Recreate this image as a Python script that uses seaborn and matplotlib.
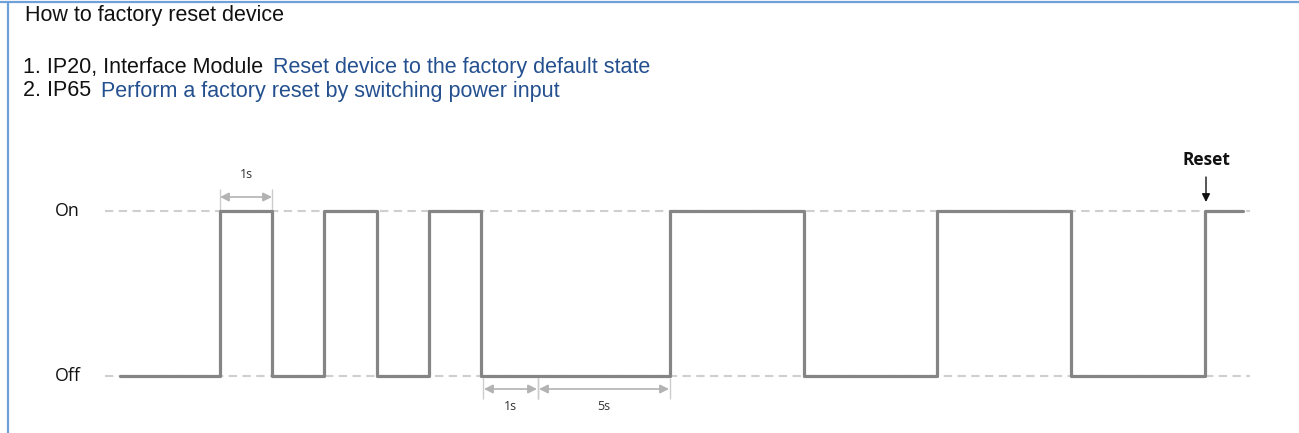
import matplotlib
matplotlib.use("Agg")
import matplotlib.pyplot as plt
import seaborn as sns
import pandas as pd
from matplotlib.lines import Line2D

# waveform: switch times (diagram units) and power level after each switch
edge_x = [120, 220, 272, 324, 377, 429, 481, 670, 804, 937, 1071, 1205, 1243]
levels = [0, 1, 0, 1, 0, 1, 0, 1, 0, 1, 0, 1, 1]
level_names = ["Off", "On"]

# duration markers: (start, end, label)
top_spans = [(220, 272, "1s")]
bottom_spans = [(483, 538, "1s"), (538, 670, "5s")]
reset_x = 1206

title = "How to factory reset device"
items = [("1. IP20, Interface Module", "Reset device to the factory default state"),
         ("2. IP65", "Perform a factory reset by switching power input")]

df = pd.DataFrame({"t": edge_x, "level": levels})

sns.set_style("white")
plt.rcParams["font.family"] = ["Liberation Sans", "DejaVu Sans"]
side_font = ["Open Sans", "DejaVu Sans"]

W, H = 1299, 433
fig = plt.figure(figsize=(W / 100, H / 100), dpi=100)
ax = fig.add_axes([0, 0, 1, 1])
# map level 0 -> 376px from top, level 1 -> 211px from top
px = 165.0

def ylev(p):
    return (376 - p) / px

# dashed reference lines
ax.hlines([0, 1], 105, 1250, colors="#cfcfcf", linestyles=(0, (4, 2.6)), lw=1.5, zorder=1)

sns.lineplot(data=df, x="t", y="level", drawstyle="steps-post", color="#858585",
             lw=2.3, ax=ax, zorder=3, legend=False, sort=False)
ax.set_xlim(0, W)
ax.set_ylim(-(H - 376) / px, 1 + 211 / px)
ax.axis("off")

for i, name in enumerate(level_names):
    ax.text(55, i, name, fontsize=12.8, family=side_font,
            va="center", ha="left", color="#111111")

gray = "#b3b3b3"
arrow = dict(arrowstyle="<|-|>", color=gray, lw=1.2, mutation_scale=13, shrinkA=0, shrinkB=0)

for x0, x1, lab in top_spans:
    ax.vlines([x0, x1], ylev(211), ylev(189), colors="#cccccc", lw=1)
    ax.annotate("", xy=(x1, ylev(197)), xytext=(x0, ylev(197)), arrowprops=arrow)
    ax.text((x0 + x1) / 2, ylev(175), lab, fontsize=9, family=side_font,
            ha="center", va="center", color="#333333")

for x0, x1, lab in bottom_spans:
    ax.vlines([x0, x1], ylev(378), ylev(399), colors="#cccccc", lw=1)
    ax.annotate("", xy=(x1 - 1, ylev(389)), xytext=(x0 + 1, ylev(389)), arrowprops=arrow)
    ax.text((x0 + x1) / 2, ylev(406), lab, fontsize=9, family=side_font,
            ha="center", va="center", color="#333333")

ax.text(reset_x, ylev(160), "Reset", fontsize=12.5, fontweight="bold",
        family=side_font, ha="center", va="center", color="#111111")
ax.annotate("", xy=(reset_x, ylev(202)), xytext=(reset_x, ylev(177)),
            arrowprops=dict(arrowstyle="-|>", color="#111111", lw=1, mutation_scale=12,
                            shrinkA=0, shrinkB=0))

# header text
fs = 15.5
fig.text(25 / W, 1 - 15 / H, title, fontsize=fs, va="center", ha="left", color="#111111")
ys = [67, 91]
for (lead, desc), y in zip(items, ys):
    t = fig.text(23 / W, 1 - y / H, lead, fontsize=fs, va="center", ha="left", color="#111111")
    ax.annotate(desc, xy=(1, 0.5), xycoords=t, xytext=(7, 0), textcoords="offset points",
                fontsize=fs, va="center", ha="left", color="#24508f")

# frame lines (top and left)
fig.add_artist(Line2D([0, 1], [1 - 1.5 / H, 1 - 1.5 / H], color="#6fa0d8", lw=1.6,
                      transform=fig.transFigure))
fig.add_artist(Line2D([7.5 / W, 7.5 / W], [0, 1 - 1.5 / H], color="#6fa0d8", lw=1.6,
                      transform=fig.transFigure))

fig.savefig("out.png", dpi=100)
